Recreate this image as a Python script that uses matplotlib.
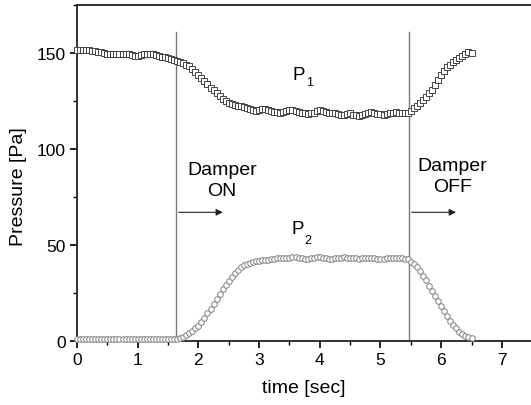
import numpy as np
import matplotlib

matplotlib.use("Agg")
import matplotlib.pyplot as plt
from matplotlib.ticker import MultipleLocator

# sampling times (0.05 s step, 0 .. 6.5 s)
t = np.round(np.arange(131) * 0.05, 2)

p1 = [
    151.5, 151.5, 151.5, 151.5, 151.5, 151.0, 151.0, 150.5, 150.5, 150.0,
    149.5, 149.5, 149.5, 149.5, 149.5, 149.5, 149.5, 149.5, 149.0, 148.5,
    148.5, 149.0, 149.5, 149.5, 149.5, 149.5, 149.0, 148.5, 148.0, 148.0,
    147.5, 147.0, 146.5, 146.0, 145.5, 145.0, 144.0, 143.0, 141.5, 140.0,
    138.5, 137.0, 135.5, 134.0, 132.0, 130.5, 129.0, 127.5, 126.0, 125.0,
    124.0, 123.5, 123.0, 122.5, 122.5, 122.0, 121.5, 121.0, 120.5, 120.0,
    120.5, 121.0, 121.0, 120.5, 120.0, 119.5, 119.5, 119.0, 119.5, 120.0,
    120.5, 120.5, 120.0, 119.5, 119.0, 118.5, 118.0, 118.5, 119.0, 120.0,
    120.5, 120.0, 119.5, 119.0, 118.5, 118.5, 118.0, 117.5, 117.5, 118.0,
    118.5, 117.5, 117.5, 117.0, 117.5, 118.0, 119.0, 119.5, 118.5, 118.0,
    118.0, 117.5, 118.0, 118.5, 119.0, 119.5, 119.0, 118.5, 118.5, 119.0,
    120.0, 121.5, 122.5, 124.0, 125.5, 127.0, 129.0, 131.0, 133.5, 136.0,
    138.5, 140.5, 142.5, 144.0, 145.5, 146.5, 147.5, 148.5, 149.5, 150.5,
    150.0,
]

p2 = [
    1.0, 1.0, 1.0, 1.0, 1.0, 1.0, 1.0, 1.0, 1.0, 1.0,
    1.0, 1.0, 1.0, 1.0, 1.0, 1.0, 1.0, 1.0, 1.0, 1.0,
    1.0, 1.0, 1.0, 1.0, 1.0, 1.0, 1.0, 1.0, 1.0, 1.0,
    1.0, 1.0, 1.0, 1.2, 1.6, 2.2, 3.0, 4.0, 5.0, 6.5,
    8.0, 10.0, 12.0, 14.5, 16.5, 19.0, 22.0, 24.5, 27.0, 29.0,
    31.0, 33.5, 35.5, 37.0, 38.5, 39.5, 40.0, 40.5, 41.0, 41.5,
    41.5, 42.0, 42.0, 42.0, 42.5, 42.5, 43.0, 43.0, 43.0, 43.0,
    43.0, 43.5, 43.5, 43.0, 43.0, 42.5, 42.5, 43.0, 43.0, 43.5,
    43.5, 43.0, 43.0, 42.5, 42.5, 43.0, 43.0, 43.0, 43.5, 43.0,
    43.0, 43.0, 43.0, 42.5, 43.0, 43.0, 43.0, 43.0, 43.0, 42.5,
    42.5, 42.5, 43.0, 43.0, 43.0, 43.0, 43.0, 43.0, 42.5, 42.5,
    41.0, 40.0, 38.5, 36.5, 34.0, 31.5, 28.7, 26.0, 23.5, 21.0,
    18.0, 15.5, 13.0, 10.5, 8.3, 6.5, 4.7, 3.5, 2.6, 2.0,
    1.5,
]

damper_on, damper_off = 1.63, 5.47

plt.rcParams["font.family"] = "Liberation Sans"
fig = plt.figure(figsize=(5.31, 4.06), dpi=100)
ax = fig.add_axes([0.145, 0.158, 0.855, 0.827])

ax.plot(t, p1, ls="none", marker="s", ms=3.8, mfc="white", mec="#444444", mew=0.7, clip_on=False, zorder=3)
ax.plot(t, p2, ls="none", marker="o", ms=4.0, mfc="white", mec="#808080", mew=0.7, clip_on=False, zorder=3)

for xv in (damper_on, damper_off):
    ax.plot([xv, xv], [0, 161], color="#777777", lw=1.0, zorder=2)
    ax.annotate("", xy=(xv + 0.82, 67), xytext=(xv, 67),
                arrowprops=dict(arrowstyle="-|>", color="#222222", lw=0.8, mutation_scale=10))

fs = 14
ax.text(2.39, 84, "Damper\nON", ha="center", va="center", fontsize=fs, linespacing=1.3)
ax.text(6.18, 86, "Damper\nOFF", ha="center", va="center", fontsize=fs, linespacing=1.3)
ax.text(3.66, 139, "P", ha="center", va="center", fontsize=13.5)
ax.text(3.83, 135, "1", ha="center", va="center", fontsize=9)
ax.text(3.64, 58.3, "P", ha="center", va="center", fontsize=13.5)
ax.text(3.81, 52.6, "2", ha="center", va="center", fontsize=9)

ax.set_xlim(0, 7.48)
ax.set_ylim(0, 175)
ax.xaxis.set_major_locator(MultipleLocator(1))
ax.xaxis.set_minor_locator(MultipleLocator(0.5))
ax.yaxis.set_major_locator(MultipleLocator(50))
ax.yaxis.set_minor_locator(MultipleLocator(25))
ax.tick_params(which="major", length=5, width=1.2, labelsize=12.5, direction="out", pad=3)
ax.tick_params(which="minor", length=3, width=1.0, direction="out")
ax.spines["right"].set_visible(False)
for s in ("left", "bottom", "top"):
    ax.spines[s].set_linewidth(1.3)
    ax.spines[s].set_color("#222222")

ax.set_xlabel("time [sec]", fontsize=14)
ax.xaxis.set_label_coords(0.5, -0.115)
ax.set_ylabel("Pressure [Pa]", fontsize=14)
ax.yaxis.set_label_coords(-0.11, 0.461)

fig.savefig("out.png", dpi=100)
